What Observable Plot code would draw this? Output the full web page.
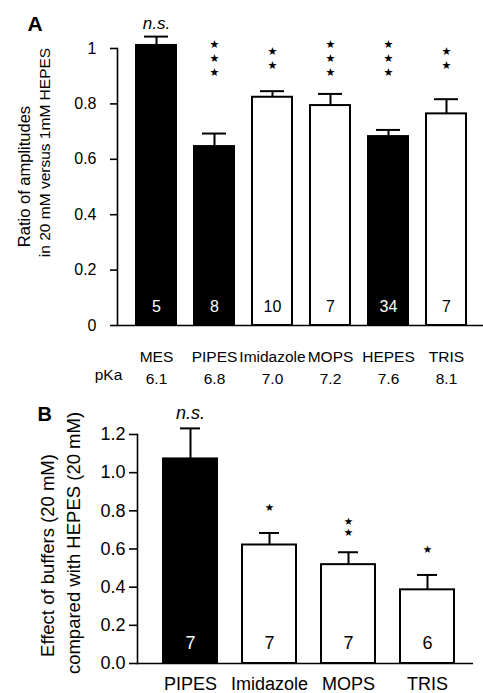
<!DOCTYPE html>
<html><head><meta charset="utf-8">
<script src="https://cdn.jsdelivr.net/npm/d3@7"></script>
<script src="https://cdn.jsdelivr.net/npm/@observablehq/plot@0.6"></script>
<style>
body{margin:0;background:#fff;}
#wrap{position:relative;width:483px;height:693px;font-family:"Liberation Sans",Arial,sans-serif;overflow:hidden;}
#a{position:absolute;left:0;top:0}
#b{position:absolute;left:0;top:390px}
svg{overflow:visible}
</style></head><body><div id="wrap"><div id="a"></div><div id="b"></div></div>
<script>
// ---- Panel A data ----
const buffersA = ["MES","PIPES","Imidazole","MOPS","HEPES","TRIS"];
const pKaA = ["6.1","6.8","7.0","7.2","7.6","8.1"];
const ratioA = [1.011,0.646,0.824,0.794,0.682,0.764];
const semA = [0.032,0.047,0.022,0.042,0.024,0.053];
const nA = [5,8,10,7,34,7];
const sigA = ["n.s.","★\n★\n★","★\n★","★\n★\n★","★\n★\n★","★\n★"];
const filledA = [true,true,false,false,true,false];
const ticksA = [0,0.2,0.4,0.6,0.8,1];

// ---- Panel B data ----
const buffersB = ["PIPES","Imidazole","MOPS","TRIS"];
const effectB = [1.072,0.621,0.518,0.386];
const semB = [0.16,0.063,0.065,0.078];
const nB = [7,7,7,6];
const sigB = ["n.s.","★","★\n★","★"];
const filledB = [true,false,false,false];
const ticksB = [0,0.2,0.4,0.6,0.8,1.0,1.2];

const font = "'Liberation Sans', Arial, Helvetica, sans-serif";
const starFont = "'DejaVu Sans', sans-serif";

const rowsA = buffersA.map((b,i)=>({buffer:b, v:ratioA[i], top:ratioA[i]+semA[i], n:String(nA[i]), sig:sigA[i], fill:filledA[i]?"#000":"#fff", nfill:filledA[i]?"#fff":"#000"}));
const rowsB = buffersB.map((b,i)=>({buffer:b, v:effectB[i], top:effectB[i]+semB[i], n:String(nB[i]), sig:sigB[i], fill:filledB[i]?"#000":"#fff", nfill:filledB[i]?"#fff":"#000"}));

const chartA = Plot.plot({
  width:483, height:390, marginLeft:117, marginRight:0, marginTop:48, marginBottom:65,
  style:{fontFamily:font, fontSize:"16px", color:"#000", background:"transparent"},
  x:{domain:buffersA, range:[135,467], paddingInner:0.316, paddingOuter:0, align:0.5},
  y:{domain:[0,1]},
  marks:[
    Plot.frame({anchor:"left", stroke:"#000", strokeWidth:1.6}),
    Plot.ruleY([0],{stroke:"#000", strokeWidth:1.6}),
    Plot.axisY({ticks:ticksA, tickFormat:d=>String(d), tickSize:7, tickPadding:14, fontSize:16, label:null, strokeWidth:1.6, stroke:"#000", fill:"#000"}),
    Plot.axisX({tickSize:0, tickPadding:22, tickFormat:d=>d+"\n"+pKaA[buffersA.indexOf(d)], lineHeight:1.36, fontSize:15.5, label:null, fill:"#000"}),
    Plot.text(["pKa"],{frameAnchor:"bottom-left", textAnchor:"middle", lineAnchor:"middle", dx:-9, dy:50, fontSize:15.5, fill:"#000"}),
    Plot.ruleX(rowsA,{x:"buffer", y1:"v", y2:"top", stroke:"#000", strokeWidth:2}),
    Plot.tickY(rowsA,{x:"buffer", y:"top", stroke:"#000", strokeWidth:2, inset:8}),
    Plot.barY(rowsA,{x:"buffer", y:"v", fill:"fill", stroke:"#000", strokeWidth:2}),
    Plot.text(rowsA,{x:"buffer", y:0, dy:-19, text:"n", fill:"nfill", fontSize:16}),
    Plot.text(rowsA.filter(d=>d.sig!=="n.s."),{x:"buffer", frameAnchor:"top", lineAnchor:"middle", dy:9, text:"sig", lineHeight:1.27, fontSize:11, fontFamily:starFont, fill:"#000"}),
    Plot.text(rowsA.filter(d=>d.sig==="n.s."),{x:"buffer", frameAnchor:"top", lineAnchor:"middle", dy:-25, text:"sig", fontSize:17, fontStyle:"italic", fill:"#000"}),
    Plot.text(["A"],{frameAnchor:"top-left", textAnchor:"start", lineAnchor:"middle", dx:-90, dy:-24, fontSize:21, fontWeight:"bold", fill:"#000"}),
    Plot.text(["Ratio of amplitudes"],{frameAnchor:"left", textAnchor:"middle", lineAnchor:"middle", dx:-93, dy:176-186.5, rotate:-90, fontSize:16.5, fill:"#000"}),
    Plot.text(["in 20 mM versus 1mM HEPES"],{frameAnchor:"left", textAnchor:"middle", lineAnchor:"middle", dx:-72, dy:152-186.5, rotate:-90, fontSize:15.5, fill:"#000"})
  ]
});
document.getElementById("a").appendChild(chartA);

const chartB = Plot.plot({
  width:483, height:303, marginLeft:137, marginRight:10, marginTop:44, marginBottom:30,
  style:{fontFamily:font, fontSize:"18px", color:"#000", background:"transparent"},
  x:{domain:buffersB, range:[163,455], paddingInner:0.312, paddingOuter:0, align:0.5},
  y:{domain:[0,1.2]},
  marks:[
    Plot.frame({anchor:"left", stroke:"#000", strokeWidth:1.6}),
    Plot.ruleY([0],{stroke:"#000", strokeWidth:1.6}),
    Plot.axisY({ticks:ticksB, tickFormat:d=>d.toFixed(1), tickSize:8, tickPadding:4, fontSize:18, label:null, strokeWidth:1.6, stroke:"#000", fill:"#000"}),
    Plot.axisX({tickSize:0, tickPadding:14, fontSize:18, label:null, fill:"#000"}),
    Plot.ruleX(rowsB,{x:"buffer", y1:"v", y2:"top", stroke:"#000", strokeWidth:2}),
    Plot.tickY(rowsB,{x:"buffer", y:"top", stroke:"#000", strokeWidth:2, inset:17}),
    Plot.barY(rowsB,{x:"buffer", y:"v", fill:"fill", stroke:"#000", strokeWidth:2}),
    Plot.text(rowsB,{x:"buffer", y:0, dy:-20, text:"n", fill:"nfill", fontSize:18}),
    Plot.text(rowsB.filter(d=>d.sig!=="n.s."),{x:"buffer", y:"top", lineAnchor:"middle", dy:-25, text:"sig", lineHeight:1.0, fontSize:10.5, fontFamily:starFont, fill:"#000"}),
    Plot.text(rowsB.filter(d=>d.sig==="n.s."),{x:"buffer", y:"top", lineAnchor:"middle", dy:-15, text:"sig", fontSize:18, fontStyle:"italic", fill:"#000"}),
    Plot.text(["B"],{frameAnchor:"top-left", textAnchor:"start", lineAnchor:"middle", dx:-100, dy:-20, fontSize:20, fontWeight:"bold", fill:"#000"}),
    Plot.text(["Effect of buffers (20 mM)"],{frameAnchor:"left", textAnchor:"middle", lineAnchor:"middle", dx:-89, dy:(555-390)-158.5, rotate:-90, fontSize:18.5, fill:"#000"}),
    Plot.text(["compared with HEPES (20 mM)"],{frameAnchor:"left", textAnchor:"middle", lineAnchor:"middle", dx:-63, dy:(542.5-390)-158.5, rotate:-90, fontSize:18.5, fill:"#000"})
  ]
});
document.getElementById("b").appendChild(chartB);
</script>
</body></html>
